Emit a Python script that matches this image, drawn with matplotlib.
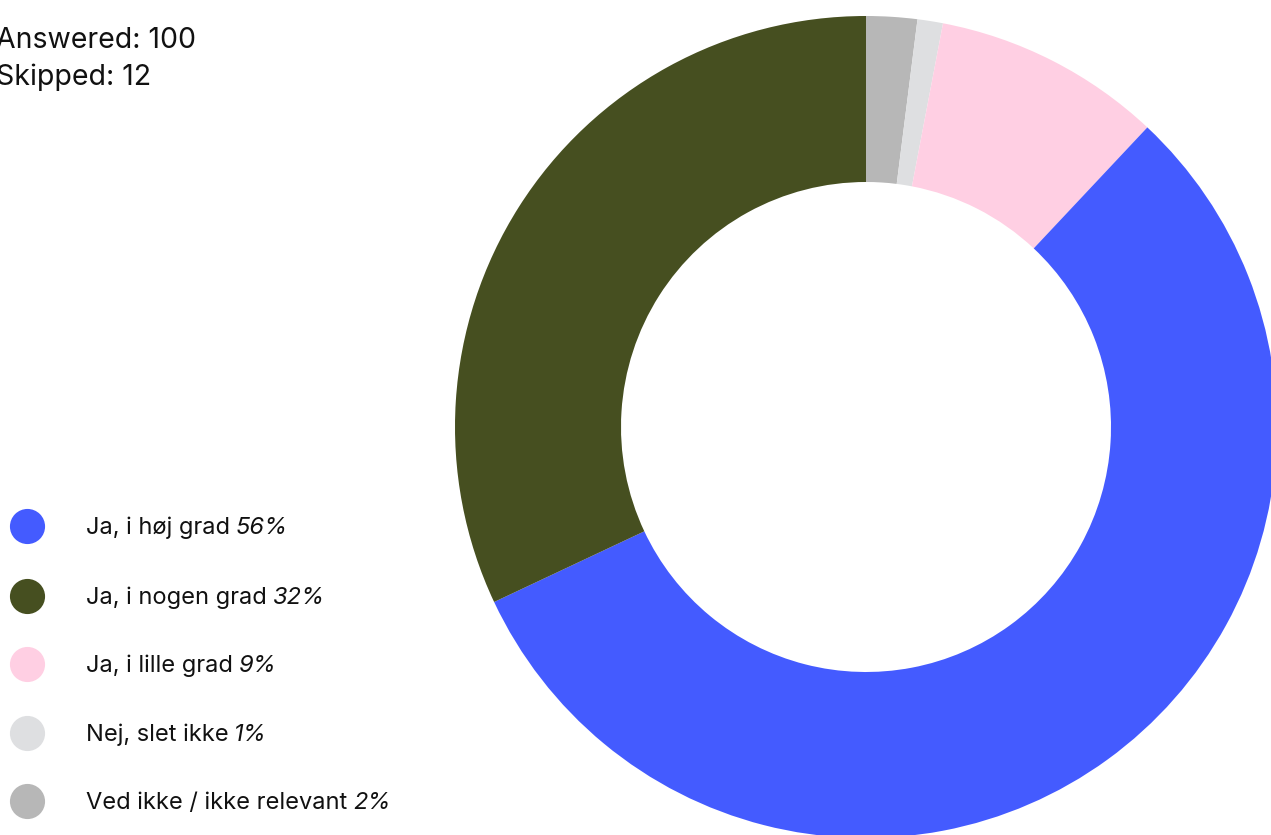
import matplotlib.pyplot as plt

# Data
labels = ["Ja, i høj grad", "Ja, i nogen grad", "Ja, i lille grad", "Nej, slet ikke", "Ved ikke / ikke relevant"]
values = [56, 32, 9, 1, 2]
colors = ["#445BFF", "#464F20", "#FFCFE3", "#DEDFE1", "#B7B7B7"]
answered = 100
skipped = 12

# Drawing order around the ring (clockwise from the top)
ring_order = [4, 3, 2, 0, 1]

plt.rcParams['font.family'] = ['Inter', 'DejaVu Sans']

W, H = 1271, 835
fig = plt.figure(figsize=(W / 100, H / 100), dpi=100)
ax = fig.add_axes([0, 0, 1, 1])

# Donut
cx, cy = 866, H - 427
r_out, r_in = 411, 245
ax.pie([values[i] for i in ring_order],
       colors=[colors[i] for i in ring_order],
       startangle=90, counterclock=False,
       center=(cx, cy), radius=r_out,
       wedgeprops=dict(width=r_out - r_in, linewidth=0),
       frame=True)
ax.set_xlim(0, W)
ax.set_ylim(0, H)
ax.set_aspect('equal')
ax.axis('off')

# Header text
ax.text(-4, H - 48, f"Answered: {answered}", fontsize=20.5, color="#111111", va='baseline')
ax.text(-4, H - 85, f"Skipped: {skipped}", fontsize=20.5, color="#111111", va='baseline')

# Legend
row_y = [526, 596, 664, 733, 801]
for lab, val, col, y in zip(labels, values, colors, row_y):
    ax.scatter([27], [H - y], s=640, color=col, linewidths=0)
    t = ax.text(86, H - y - 8, lab, fontsize=17, color="#111111", va='baseline')
    ax.annotate(f"{val}%", xy=(1, H - y - 8), xycoords=(t, 'data'),
                xytext=(4, 0), textcoords='offset points',
                fontsize=17, style='italic', color="#111111", va='baseline')

fig.savefig("out.png", dpi=100)
